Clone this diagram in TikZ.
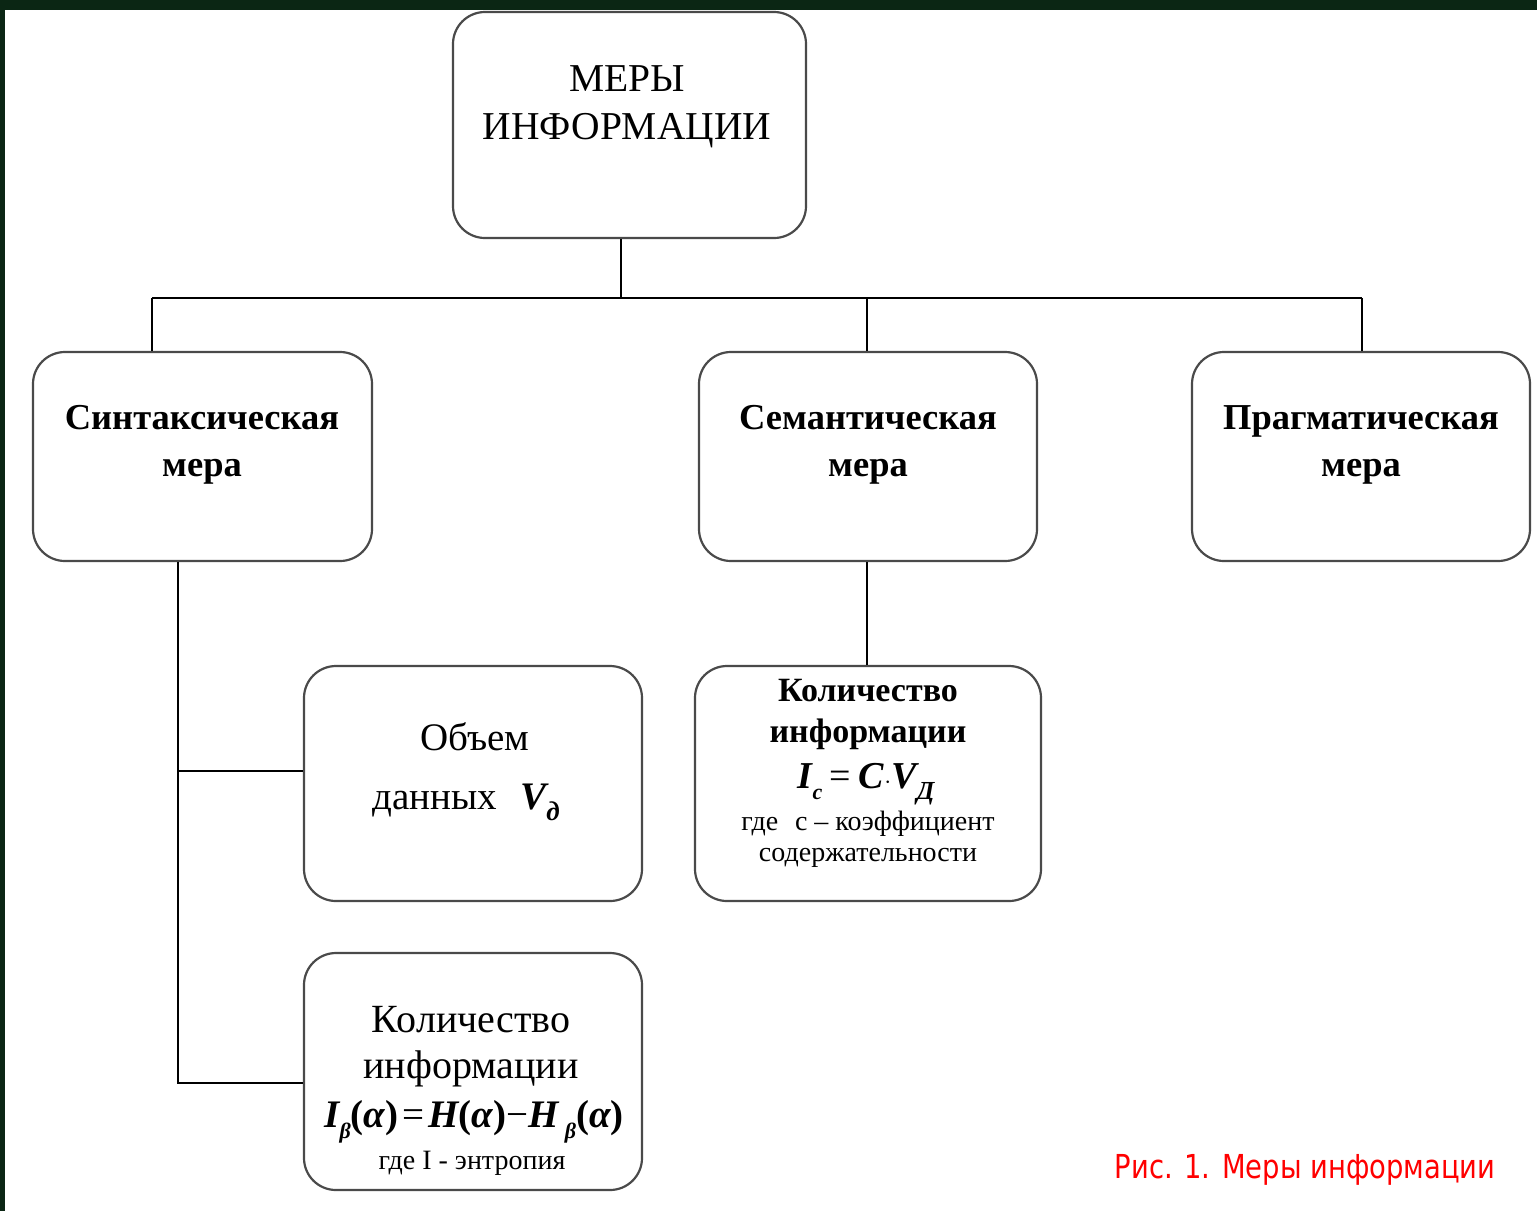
\documentclass[tikz,border=0pt]{standalone}
\usepackage{fontspec}
\setmainfont{Liberation Serif}
\newfontfamily\capfont{DejaVu Sans}
\definecolor{edge}{HTML}{0B2614}
\definecolor{boxline}{HTML}{4A4A4A}
\definecolor{capred}{HTML}{FF0000}
\begin{document}
\begin{tikzpicture}[x=1pt,y=-1pt,
  box/.style={draw=boxline, line width=2.2pt, rounded corners=32pt, fill=white, inner sep=0pt},
  conn/.style={draw=black, line width=2pt},
  txt/.style={align=center, inner sep=0pt, text=black}]
\useasboundingbox (0,0) rectangle (1537,1211);
\fill[white] (0,0) rectangle (1537,1211);
\fill[edge] (0,0) rectangle (1537,10);
\fill[edge] (0,0) rectangle (5,1211);
% boxes
\node[box, minimum width=353pt, minimum height=226pt] (top) at (629.5,125) {};
\node[box, minimum width=339pt, minimum height=209pt] (syn) at (202.5,456.5) {};
\node[box, minimum width=338pt, minimum height=209pt] (sem) at (868,456.5) {};
\node[box, minimum width=338pt, minimum height=209pt] (prag) at (1361,456.5) {};
\node[box, minimum width=338pt, minimum height=235pt] (vol) at (473,783.5) {};
\node[box, minimum width=346pt, minimum height=235pt] (semq) at (868,783.5) {};
\node[box, minimum width=338pt, minimum height=237pt] (synq) at (473,1071.5) {};
% connectors
\coordinate (j0) at (621,298);
\coordinate (jl) at (152,298);
\coordinate (jr) at (1362,298);
\coordinate (jm) at (867,298);
\coordinate (s1) at (178,771);
\coordinate (s2) at (178,1083);
\draw[conn] (top.south -| j0) -- (j0);
\draw[conn] (jl) -- (jr);
\draw[conn] (jl) -- (jl |- syn.north);
\draw[conn] (jm) -- (jm |- sem.north);
\draw[conn] (jr) -- (jr |- prag.north);
\draw[conn] (syn.south -| s1) -- (s2) -- (s2 -| synq.west);
\draw[conn] (s1) -- (s1 -| vol.west);
\draw[conn] (sem.south -| jm) -- (jm |- semq.north);
% texts
\node[txt, font=\fontsize{39.5}{48}\selectfont] (ttop) at (627,107) {МЕРЫ\\ИНФОРМАЦИИ};
\node[txt, font=\bfseries\fontsize{36.5}{47}\selectfont] (tsyn) at (202,445) {Синтаксическая\\мера};
\node[txt, font=\bfseries\fontsize{36.5}{47}\selectfont] (tsem) at (868,445) {Семантическая\\мера};
\node[txt, font=\bfseries\fontsize{36.5}{47}\selectfont] (tprag) at (1361,445) {Прагматическая\\мера};
\node[txt, font=\fontsize{39}{40}\selectfont] (tvol1) at (475,737) {Объем};
\node[txt, font=\fontsize{39}{40}\selectfont, anchor=base] (tvol2) at (466,809)
  {данных\hspace{0.6em}{\bfseries\itshape V\raisebox{-0.3em}{\fontsize{27}{27}\selectfont д}}};
\node[txt, font=\bfseries\fontsize{34}{41}\selectfont] (tsemq1) at (868,714) {Количество\\информации};
\node[txt, font=\fontsize{38}{38}\selectfont, anchor=base] (tsemq2) at (866,788)
  {{\bfseries\itshape I\raisebox{-0.3em}{\fontsize{22}{22}\selectfont c}}\hspace{0.2em}=\hspace{0.2em}{\bfseries\itshape C}{\fontsize{24}{24}\selectfont$\cdot$}{\bfseries\itshape V\raisebox{-0.3em}{\fontsize{26}{26}\selectfont Д}}};
\node[txt, font=\fontsize{28}{31}\selectfont] (tsemq3) at (868,839) {где\hspace{0.6em}с -- коэффициент\\содержательности};
\node[txt, font=\fontsize{40}{46}\selectfont] (tsynq1) at (471,1047) {Количество\\информации};
\node[txt, font=\fontsize{39}{39}\selectfont, anchor=base] (tsynq2) at (474,1127)
  {\bfseries\itshape I\raisebox{-0.3em}{\fontsize{22}{22}\selectfont β}{\upshape(}α{\upshape)}\hspace{0.1em}{\mdseries\upshape =}\hspace{0.1em}H{\upshape(}α{\upshape)}{\mdseries\upshape −}H\,\raisebox{-0.3em}{\fontsize{22}{22}\selectfont β}{\upshape(}α{\upshape)}};
\node[txt, font=\fontsize{28}{30}\selectfont] (tsynq3) at (472,1163) {где I - энтропия};
\node[txt, text=capred, font=\capfont\fontsize{33}{33}\selectfont, anchor=base] (cap) at (1305,1178)
  {\scalebox{0.83}[1]{Рис. 1. Меры информации}};
\end{tikzpicture}
\end{document}
